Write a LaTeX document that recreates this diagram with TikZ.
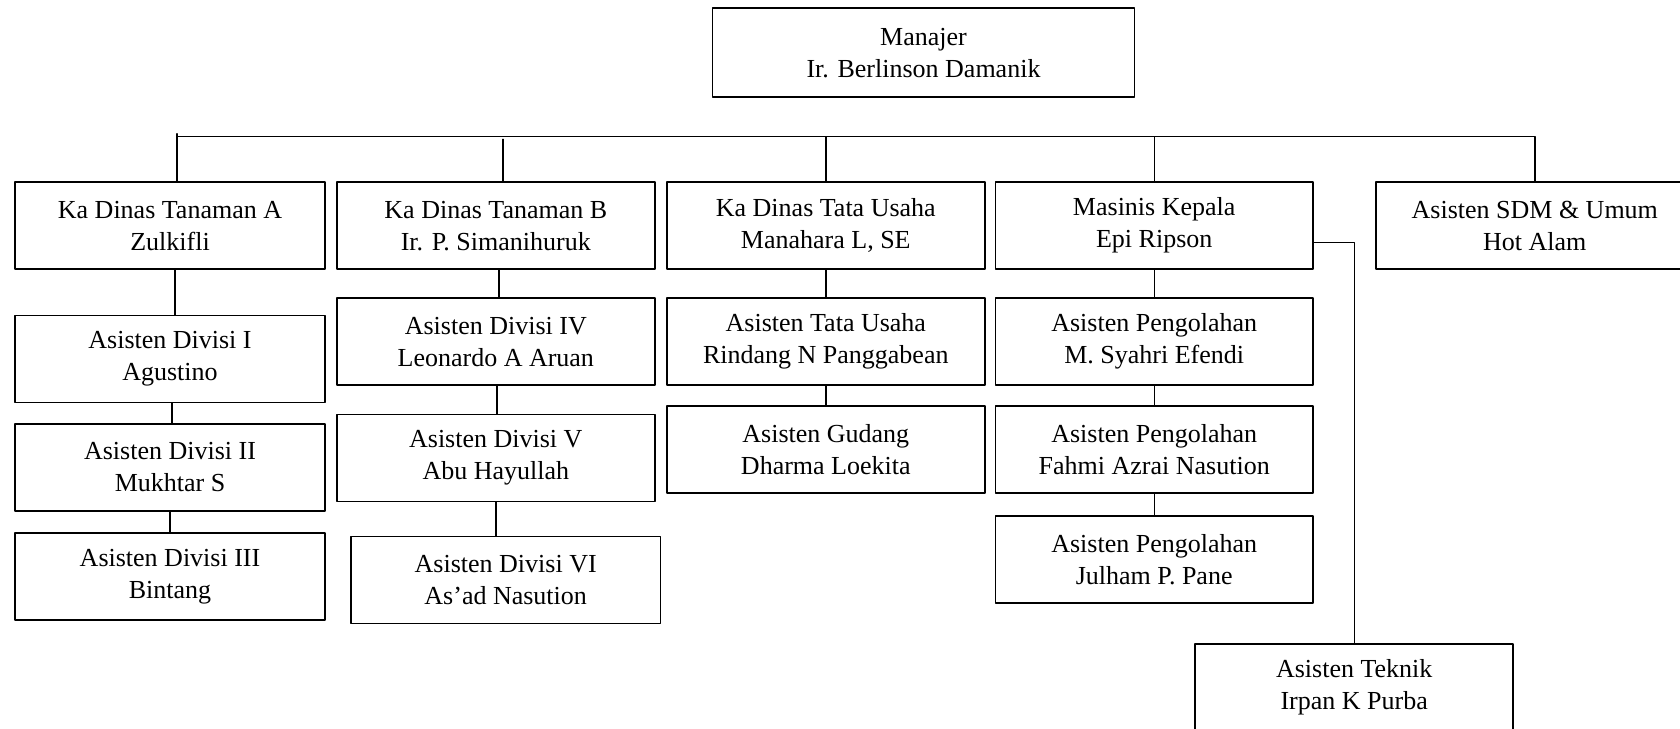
\documentclass[tikz,border=0pt]{standalone}
\usepackage{fontspec}
\setmainfont{Liberation Serif}
\begin{document}
\begin{tikzpicture}[x=.5pt, y=-.5pt, line join=round, line cap=round,
    kotak/.style={draw, line width=.9pt, align=center, inner sep=0pt,
        minimum width=158.8pt, minimum height=43.5pt, font=\fontsize{13}{16}\selectfont},
    garis/.style={line width=.7pt}]
    \useasboundingbox (0,0) rectangle (1680,728);
    \def\kiri{155pt} % lebar kolom A
    \coordinate (bus) at (0,136.7);
    % pimpinan
    \node (manajer) at (923.5,52.8) [kotak, minimum width=211pt, minimum height=44.5pt]{Manajer\\Ir. Berlinson Damanik};
    % baris pertama
    \node (kaA) at (170,225.7) [kotak, minimum width=\kiri]{Ka Dinas Tanaman A\\Zulkifli};
    \node (kaB) at (495.8,225.7) [kotak]{Ka Dinas Tanaman B\\Ir. P. Simanihuruk};
    \node (kaC) at (825.8,225.7) [kotak]{Ka Dinas Tata Usaha\\Manahara L, SE};
    \node (masinis) at (1154.2,225.7) [kotak]{Masinis Kepala\\Epi Ripson};
    \node (sdm) at (1534.8,225.7) [kotak, minimum width=159pt]{Asisten SDM \& Umum\\Hot Alam};
    % kolom A
    \node (div1) at (170,359) [kotak, minimum width=\kiri]{Asisten Divisi I\\Agustino};
    \node (div2) at (170,467.2) [kotak, minimum width=\kiri]{Asisten Divisi II\\Mukhtar S};
    \node (div3) at (170,576.5) [kotak, minimum width=\kiri]{Asisten Divisi III\\Bintang};
    % kolom B
    \node (div4) at (495.8,341.7) [kotak]{Asisten Divisi IV\\Leonardo A Aruan};
    \node (div5) at (495.8,458) [kotak]{Asisten Divisi V\\Abu Hayullah};
    \node (div6) at (505.7,580) [kotak, minimum width=154.8pt]{Asisten Divisi VI\\As'ad Nasution};
    % kolom C
    \node (tu) at (825.8,341.7) [kotak]{Asisten Tata Usaha\\Rindang N Panggabean};
    \node (gudang) at (825.8,449.8) [kotak]{Asisten Gudang\\Dharma Loekita};
    % kolom D
    \node (p1) at (1154.2,341.7) [kotak]{Asisten Pengolahan\\M. Syahri Efendi};
    \node (p2) at (1154.2,449.8) [kotak]{Asisten Pengolahan\\Fahmi Azrai Nasution};
    \node (p3) at (1154.2,559.8) [kotak]{Asisten Pengolahan\\Julham P. Pane};
    \node (teknik) at (1354.2,687.5) [kotak, minimum width=159pt]{Asisten Teknik\\Irpan K Purba};
    % garis
    \draw[garis] ([xshift=3.5pt]kaA.north) -- ([xshift=3.5pt,yshift=1.5pt]kaA.north |- bus);
    \draw[garis] ([xshift=3.5pt]kaA.north |- bus) -- (sdm.north |- bus) -- (sdm.north);
    \draw[garis] ([xshift=3.5pt]kaB.north) -- ([xshift=3.5pt,yshift=-1.3pt]kaB.north |- bus);
    \foreach \n in {kaC,masinis}
    \draw[garis] (\n.north) -- (\n.north |- bus);
    \draw[garis] ([xshift=2.5pt]kaA.south) -- ([xshift=2.5pt]div1.north);
    \draw[garis] ([xshift=1pt]div1.south) -- ([xshift=1pt]div2.north);
    \draw[garis] (div2) -- (div3);
    \draw[garis] ([xshift=1.5pt]kaB.south) -- ([xshift=1.5pt]div4.north);
    \draw[garis] ([xshift=.5pt]div4.south) -- ([xshift=.5pt]div5.north);
    \draw[garis] (div5.south) -- (div5.south |- div6.north);
    \draw[garis] (kaC) -- (tu) -- (gudang);
    \draw[garis] (masinis) -- (p1) -- (p2) -- (p3);
    \draw[garis] ([yshift=-8.5pt]masinis.east) -| (teknik.north);
\end{tikzpicture}
\end{document}
